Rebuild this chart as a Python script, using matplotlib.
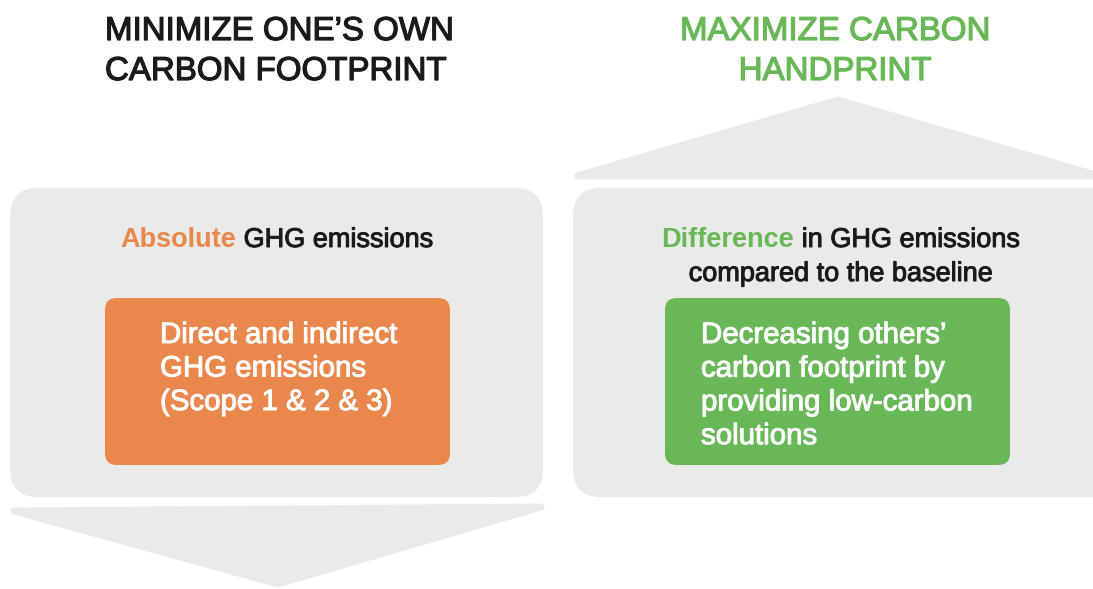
import matplotlib.pyplot as plt
import matplotlib.patheffects as pe
from matplotlib.patches import FancyBboxPatch, Polygon

plt.rcParams['font.family'] = ['Liberation Sans', 'DejaVu Sans']

ORANGE = '#EA874C'
GREEN = '#69B857'
GRAY = '#EAEAE8'
DARK = '#1A1A1A'

left_title = ["MINIMIZE ONE\u2019S OWN", "CARBON FOOTPRINT"]
right_title = ["MAXIMIZE CARBON", "HANDPRINT"]
left_head = [("Absolute", " GHG emissions")]
right_head = [("Difference", " in GHG emissions"), ("", "compared to the baseline")]
left_box = ["Direct and indirect", "GHG emissions", "(Scope 1 & 2 & 3)"]
right_box = ["Decreasing others\u2019", "carbon footprint by", "providing low-carbon", "solutions"]

fig = plt.figure(figsize=(10.93, 5.89), dpi=100)
ax = fig.add_axes([0, 0, 1, 1])
ax.set_xlim(0, 1093)
ax.set_ylim(589, 0)
ax.axis('off')


def heavy(color, w=0.7):
    # helvetica in the source looks a bit heavier than liberation regular
    return [pe.withStroke(linewidth=w, foreground=color)]


def rbox(x0, y0, x1, y1, color, r):
    ax.add_patch(FancyBboxPatch((x0, y0), x1 - x0, y1 - y0,
                                boxstyle="round,pad=0,rounding_size=%d" % r,
                                fc=color, ec='none'))


def tri(pts):
    ax.add_patch(Polygon(pts, closed=True, fc=GRAY, ec=GRAY, lw=5,
                         joinstyle='round'))


# background shapes
tri([(14, 511), (541, 507), (278, 584)])
tri([(577, 176), (838, 100), (1099, 176)])
rbox(10, 188, 543, 497, GRAY, 28)
rbox(573, 188, 1125, 497, GRAY, 28)
rbox(105, 298, 450, 465, ORANGE, 12)
rbox(665, 298, 1010, 465, GREEN, 12)

# titles
for i, s in enumerate(left_title):
    ax.text(105, 40 + 40 * i, s, fontsize=23.8, color=DARK, ha='left', va='baseline',
            path_effects=heavy(DARK, 0.9))
for i, s in enumerate(right_title):
    ax.text(835, 40 + 40 * i, s, fontsize=23.8, color=GREEN, ha='center', va='baseline',
            path_effects=heavy(GREEN, 0.9))

renderer = fig.canvas.get_renderer()


def twocolor(xc, y, bold, rest, color):
    t1 = ax.text(0, y, bold, fontsize=19.5, fontweight='bold', color=color,
                 ha='left', va='baseline')
    t2 = ax.text(0, y, rest, fontsize=19.5, color=DARK, ha='left', va='baseline',
                 path_effects=heavy(DARK))
    w1 = t1.get_window_extent(renderer).width if bold else 0
    w2 = t2.get_window_extent(renderer).width
    x0 = xc - (w1 + w2) / 2
    t1.set_x(x0)
    t2.set_x(x0 + w1)


for i, (b, r) in enumerate(left_head):
    twocolor(277, 247 + 34 * i, b, r, ORANGE)
for i, (b, r) in enumerate(right_head):
    twocolor(841, 247 + 34 * i, b, r, GREEN)

for i, s in enumerate(left_box):
    ax.text(160, 343 + 33.5 * i, s, fontsize=21.2, color='white', ha='left', va='baseline',
            path_effects=heavy('white'))
for i, s in enumerate(right_box):
    ax.text(701, 343 + 33.7 * i, s, fontsize=21.2, color='white', ha='left', va='baseline',
            path_effects=heavy('white'))

fig.savefig('out.png', dpi=100)
